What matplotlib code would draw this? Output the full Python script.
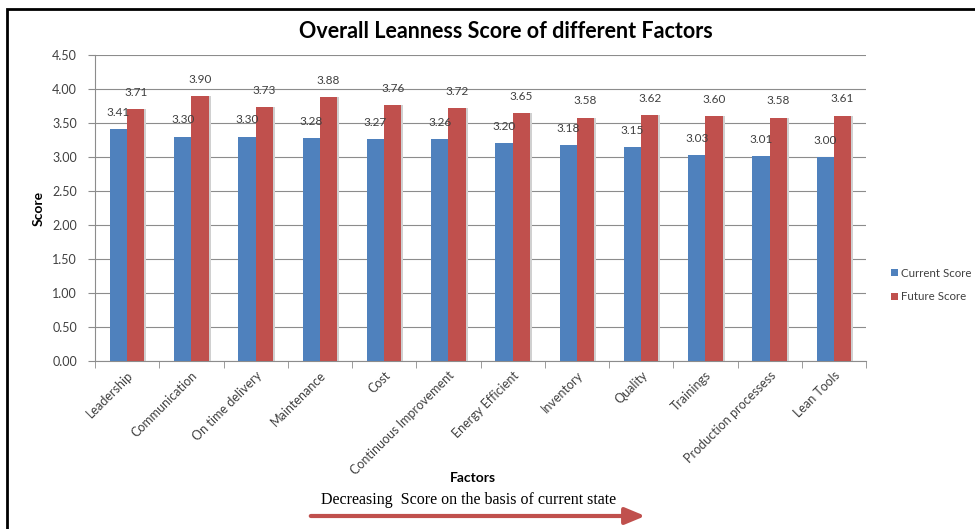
import matplotlib
matplotlib.use("Agg")
import matplotlib.pyplot as plt
import numpy as np
from matplotlib.patches import Rectangle

factors = ["Leadership", "Communication", "On time delivery", "Maintenance", "Cost",
           "Continuous Improvement", "Energy Efficient", "Inventory", "Quality",
           "Trainings", "Production processess", "Lean Tools"]
current = [3.41, 3.30, 3.30, 3.28, 3.27, 3.26, 3.20, 3.18, 3.15, 3.03, 3.01, 3.00]
future = [3.71, 3.90, 3.73, 3.88, 3.76, 3.72, 3.65, 3.58, 3.62, 3.60, 3.58, 3.61]
yticks = [0.0, 0.5, 1.0, 1.5, 2.0, 2.5, 3.0, 3.5, 4.0, 4.5]

blue = "#4F81BD"
red = "#C0504D"
grid = "#8C8C8C"
txt = "#404040"

plt.rcParams['font.family'] = ['Lato', 'DejaVu Sans']

W, H = 975, 529
fig = plt.figure(figsize=(W / 100, H / 100), dpi=100)
ax = fig.add_axes([95 / W, 1 - 361 / H, (866 - 95) / W, (361 - 55) / H])

x = np.arange(len(factors))
bw = 0.27
# faint shadows behind the bars, like the excel render
ax.bar(x - bw / 2 + 0.03, current, bw, color="#d0d0d0", zorder=2)
ax.bar(x + bw / 2 + 0.03, future, bw, color="#d0d0d0", zorder=2)
b1 = ax.bar(x - bw / 2, current, bw, color=blue, label="Current Score", zorder=3)
b2 = ax.bar(x + bw / 2, future, bw, color=red, label="Future Score", zorder=3)

for bars, vals in ((b1, current), (b2, future)):
    for r, v in zip(bars, vals):
        ax.annotate(f"{v:.2f}", (r.get_x() + r.get_width() / 2, v),
                    xytext=(0, 8), textcoords="offset points",
                    ha="center", va="bottom", fontsize=8.5, color=txt)

ax.set_ylim(0, 4.5)
ax.set_xlim(-0.5, len(factors) - 0.5)
ax.set_yticks(yticks)
ax.set_yticklabels([f"{t:.2f}" for t in yticks], fontsize=9, color=txt)
ax.yaxis.grid(True, color=grid, lw=0.8, zorder=0)
ax.set_axisbelow(True)

ax.set_xticks(x)
ax.set_xticklabels(factors, rotation=45, ha="right", rotation_mode="anchor",
                   fontsize=9, color=txt)
ax.set_xticks(np.arange(-0.5, len(factors)), minor=True)
ax.tick_params(axis="x", which="major", length=0, pad=6)
ax.tick_params(axis="x", which="minor", length=5, color=grid)
ax.tick_params(axis="y", length=5, color=grid, pad=8)

for s in ("top", "right"):
    ax.spines[s].set_visible(False)
for s in ("left", "bottom"):
    ax.spines[s].set_color(grid)
    ax.spines[s].set_linewidth(0.8)

ax.set_ylabel("Score", fontsize=10, fontweight="bold", color="black")
ax.yaxis.set_label_coords((45 - 95) / (866 - 95), 0.5)
ax.set_xlabel("Factors", fontsize=10, fontweight="bold", color="black")
ax.xaxis.set_label_coords((473 - 95) / (866 - 95), (361 - 472) / (361 - 55))

fig.text(506 / W, 1 - 31 / H, "Overall Leanness Score of different Factors",
         ha="center", va="center", fontsize=15.5, fontweight="bold")

ax.legend(loc="center left", bbox_to_anchor=(891 / W, 1 - 285 / H),
          bbox_transform=fig.transFigure, frameon=False, fontsize=8.3,
          handlelength=0.6, handleheight=0.6, handletextpad=0.3,
          labelspacing=1.1, labelcolor=txt, borderaxespad=0, borderpad=0)

fig.text(469 / W, 1 - 500 / H, "Decreasing  Score on the basis of current state",
         ha="center", va="center", fontsize=11.5, family="Liberation Serif")
ax.annotate("", xy=(648 / W, 1 - 516 / H), xytext=(308 / W, 1 - 516 / H),
            xycoords="figure fraction", textcoords="figure fraction",
            arrowprops=dict(arrowstyle="-|>,head_length=1.2,head_width=0.5",
                            color=red, lw=3))

fig.patches.append(Rectangle((7 / W, -0.1), 1.2, 1 - 9 / H + 0.1,
                             transform=fig.transFigure, fill=False,
                             edgecolor="black", lw=2))

fig.savefig("out.png", dpi=100)
